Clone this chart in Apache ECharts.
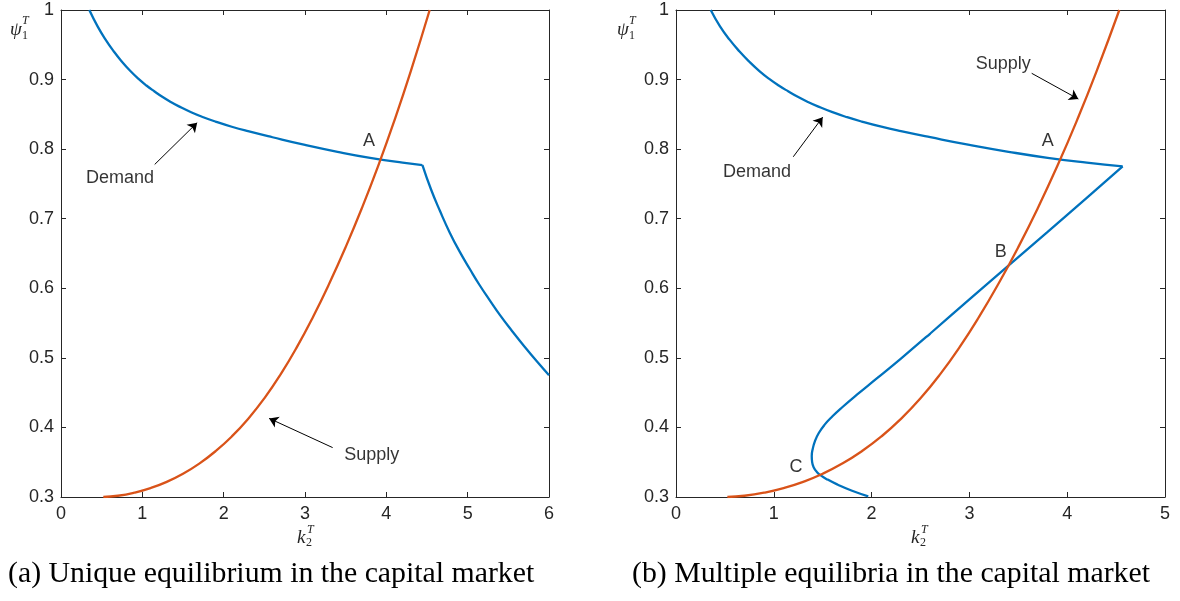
<!DOCTYPE html>
<html>
<head>
<meta charset="utf-8">
<script src="https://cdn.jsdelivr.net/npm/echarts@6/dist/echarts.min.js"></script>
<style>
html,body{margin:0;padding:0;background:#fff;}
#c{width:1180px;height:601px;}
</style>
</head>
<body>
<div id="c"></div>
<script>
// ---------- data ----------
var xTicksLeft = [0, 1, 2, 3, 4, 5, 6];
var xTicksRight = [0, 1, 2, 3, 4, 5];
var yTicks = [0.3, 0.4, 0.5, 0.6, 0.7, 0.8, 0.9, 1];

// Panel (a)
var demandUpperA = [[0.348,1.0],[0.45,0.9765],[0.55,0.957],[0.65,0.9403],[0.75,0.9256],[0.85,0.9126],[0.95,0.9013],[1.05,0.8915],[1.15,0.8829],[1.25,0.8749],[1.35,0.8678],[1.45,0.8615],[1.6,0.8531],[1.75,0.8459],[1.9,0.8396],[2.1,0.8322],[2.3,0.8258],[2.6,0.8171],[3.0,0.8061],[3.4,0.7962],[3.8,0.7875],[4.2,0.7805],[4.444,0.7771]];
var demandDropA = [[4.444,0.7771],[4.55,0.742],[4.66,0.711],[4.78,0.680],[4.9,0.653],[5.03,0.627],[5.15,0.604],[5.27,0.583],[5.4,0.561],[5.55,0.538],[5.7,0.516],[5.85,0.495],[6.0,0.475]];
var supplyA = [[0.52,0.3],[0.7,0.3018],[0.9,0.3062],[1.1,0.3128],[1.3,0.3218],[1.5,0.3334],[1.7,0.348],[1.9,0.3658],[2.1,0.387],[2.3,0.4122],[2.5,0.4418],[2.7,0.4762],[2.9,0.5154],[3.1,0.5592],[3.3,0.6072],[3.5,0.6592],[3.7,0.7154],[3.9,0.776],[4.1,0.8414],[4.3,0.9118],[4.533,1.0]];

// Panel (b)
var demandUpperB = [[0.355,1.0],[0.45,0.9765],[0.55,0.957],[0.65,0.9403],[0.75,0.9256],[0.85,0.9126],[0.95,0.9013],[1.05,0.8915],[1.15,0.8829],[1.25,0.8749],[1.35,0.8678],[1.45,0.8615],[1.6,0.8531],[1.75,0.8459],[1.9,0.8396],[2.1,0.8322],[2.3,0.8258],[2.6,0.8171],[3.0,0.8061],[3.4,0.7962],[3.8,0.7875],[4.2,0.7805],[4.567,0.7751]];
var demandLowerB = [[4.567,0.7751],[4.2,0.730],[3.8,0.681],[3.42,0.635],[3.0,0.584],[2.6,0.535],[2.3,0.499],[2.05,0.470],[1.85,0.447],[1.7,0.429],[1.6,0.416],[1.52,0.404],[1.46,0.392],[1.42,0.380],[1.398,0.369],[1.388,0.359],[1.392,0.350],[1.41,0.342],[1.44,0.336],[1.48,0.331],[1.55,0.325],[1.65,0.318],[1.8,0.309],[1.966,0.301]];
var supplyB = [[0.525,0.3],[0.7,0.3018],[0.9,0.3062],[1.1,0.3128],[1.3,0.3218],[1.5,0.3334],[1.7,0.348],[1.9,0.3658],[2.1,0.387],[2.3,0.4122],[2.5,0.4418],[2.7,0.4762],[2.9,0.5154],[3.1,0.5592],[3.3,0.6072],[3.5,0.6592],[3.7,0.7154],[3.9,0.776],[4.1,0.8414],[4.3,0.9118],[4.533,1.0]];

// annotation texts [k, psi, text] and arrows [from, to]
var labelsA = [[3.788,0.8115,'A'],[0.725,0.758,'Demand'],[3.82,0.360,'Supply']];
var arrowsA = [[[1.152,0.778],[1.674,0.838]],[[3.34,0.371],[2.559,0.413]]];
var labelsB = [[3.80,0.812,'A'],[3.32,0.652,'B'],[1.227,0.343,'C'],[3.347,0.923,'Supply'],[0.828,0.767,'Demand']];
var arrowsB = [[[3.637,0.909],[4.114,0.872]],[[1.199,0.789],[1.5,0.846]]];

var captions = ['(a) Unique equilibrium in the capital market','(b) Multiple equilibria in the capital market'];

// ---------- styles ----------
var AX = '#262626';
var BLUE = '#0072BD', ORANGE = '#D95319';
var SANS = '"Liberation Sans", Arial, Helvetica, sans-serif';
var SERIF = '"Liberation Serif", "DejaVu Serif", serif';

function xAx(grid, pos, max, showLabel) {
  return {
    gridIndex: grid, type: 'value', position: pos, min: 0, max: max, interval: 1,
    axisLine: {show: true, onZero: false, lineStyle: {color: AX, width: 1}},
    axisTick: {show: true, inside: true, length: 5, lineStyle: {color: AX, width: 1}},
    axisLabel: {show: showLabel, fontSize: 18, color: AX, fontFamily: SANS, margin: 8},
    splitLine: {show: false}
  };
}
function yAx(grid, pos, showLabel) {
  return {
    gridIndex: grid, type: 'value', position: pos, min: 0.3, max: 1, interval: 0.1,
    axisLine: {show: true, onZero: false, lineStyle: {color: AX, width: 1}},
    axisTick: {show: true, inside: true, length: 5, lineStyle: {color: AX, width: 1}},
    axisLabel: {show: showLabel, fontSize: 18, color: AX, fontFamily: SANS, margin: 7,
      formatter: function (v) { return String(+v.toFixed(1)); }},
    splitLine: {show: false}
  };
}
function line(data, color, xi, yi) {
  return {
    type: 'line', data: data, xAxisIndex: xi, yAxisIndex: yi,
    showSymbol: false, symbol: 'none', smooth: 0.5, clip: true,
    lineStyle: {color: color, width: 2.3}, silent: true, z: 3
  };
}
function notes(labels, arrows, xi, yi) {
  return {
    type: 'scatter', xAxisIndex: xi, yAxisIndex: yi, silent: true,
    symbol: 'circle', symbolSize: 1, itemStyle: {color: 'rgba(0,0,0,0)'},
    data: labels.map(function (l) { return {name: l[2], value: [l[0], l[1]]}; }),
    label: {show: true, position: 'inside', formatter: '{b}', color: '#000', fontSize: 18, fontFamily: SANS},
    markLine: {
      silent: true, animation: false, symbol: ['none', 'arrow'], symbolSize: 9,
      lineStyle: {color: '#000', width: 1, type: 'solid'}, label: {show: false},
      emphasis: {disabled: true},
      data: arrows.map(function (a) { return [{coord: a[0]}, {coord: a[1]}]; })
    }
  };
}
function txt(t, left, top, font) {
  return {type: 'text', left: left, top: top, silent: true,
    style: {text: t, font: font, fill: AX}};
}

var mathBig = 'italic 19px ' + SERIF;
var mathSmallI = 'italic 12px ' + SERIF;
var mathSmall = '12px ' + SERIF;

var option = {
  backgroundColor: '#fff',
  animation: false,
  grid: [
    {left: 61, top: 10, width: 488, height: 487},
    {left: 676, top: 10, width: 489, height: 487}
  ],
  xAxis: [xAx(0, 'bottom', 6, true), xAx(0, 'top', 6, false), xAx(1, 'bottom', 5, true), xAx(1, 'top', 5, false)],
  yAxis: [yAx(0, 'left', true), yAx(0, 'right', false), yAx(1, 'left', true), yAx(1, 'right', false)],
  series: [
    line(demandUpperA, BLUE, 0, 0),
    line(demandDropA, BLUE, 0, 0),
    line(supplyA, ORANGE, 0, 0),
    line(demandUpperB, BLUE, 2, 2),
    line(demandLowerB, BLUE, 2, 2),
    line(supplyB, ORANGE, 2, 2),
    notes(labelsA, arrowsA, 0, 0),
    notes(labelsB, arrowsB, 2, 2)
  ],
  graphic: [
    txt('ψ', 10, 20, mathBig), txt('T', 22, 15, mathSmallI), txt('1', 22, 30, mathSmall),
    txt('ψ', 617, 20, mathBig), txt('T', 629, 15, mathSmallI), txt('1', 629, 30, mathSmall),
    txt('k', 297, 528, mathBig), txt('T', 307, 524, mathSmallI), txt('2', 306, 537, mathSmall),
    txt('k', 911, 528, mathBig), txt('T', 921, 524, mathSmallI), txt('2', 920, 537, mathSmall),
    {type: 'text', left: 8, top: 559, silent: true, style: {text: captions[0], font: '29.8px ' + SERIF, fill: '#000'}},
    {type: 'text', left: 632, top: 559, silent: true, style: {text: captions[1], font: '29.8px ' + SERIF, fill: '#000'}}
  ]
};

var chart = echarts.init(document.getElementById('c'), null, {renderer: 'canvas'});
chart.setOption(option);
</script>
</body>
</html>
